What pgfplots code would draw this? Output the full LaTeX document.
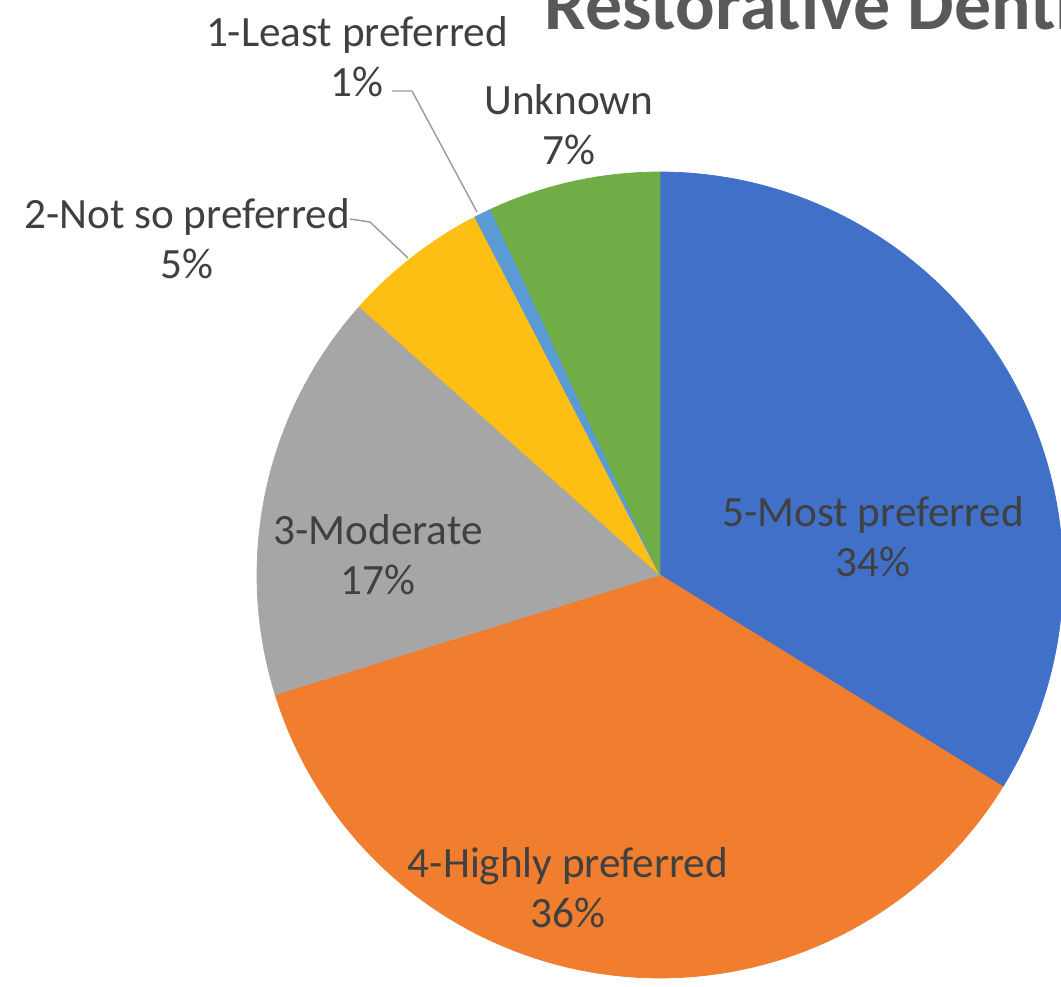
\documentclass[border=0pt]{standalone}
\usepackage{fontspec}
\setmainfont{Carlito}[Ligatures=NoCommon]
\usepackage{pgfplots}
\pgfplotsset{compat=1.18}

\definecolor{cBlue}{HTML}{4170C8}
\definecolor{cOrange}{HTML}{F07E2E}
\definecolor{cGray}{HTML}{A6A6A6}
\definecolor{cGold}{HTML}{FDBF14}
\definecolor{cLBlue}{HTML}{5B9BD5}
\definecolor{cGreen}{HTML}{70AD47}
\definecolor{txt}{HTML}{404040}
\definecolor{ttl}{HTML}{595959}
\definecolor{lead}{HTML}{999999}

% pie centre and radius in axis units (1 unit = 1 px of the reference)
\def\cx{660}\def\cy{411}\def\rr{403}
\def\startang{90}
\newcommand\slice[2]{%
  \pgfmathsetmacro\endang{\startang-3.6*#1}%
  \edef\temp{\noexpand\addplot[fill=#2,draw=#2,line width=0.2pt,domain=\endang:\startang,samples=120,variable=\noexpand\tt]
    ({\cx+\rr*cos(\noexpand\tt)},{\cy+\rr*sin(\noexpand\tt)}) -- (axis cs:\cx,\cy) -- cycle;}%
  \temp
  \global\let\startang\endang
}

\begin{document}
\begin{tikzpicture}
\useasboundingbox (0,0) rectangle (10.61cm,9.86cm);
\clip (0,0) rectangle (10.61cm,9.86cm);
\begin{axis}[at={(0,0)},anchor=south west,
  width=10.61cm,height=9.86cm,scale only axis,
  xmin=0,xmax=1061,ymin=0,ymax=986,
  axis lines=none,clip=false]
% slices clockwise from 12 o'clock (percent values)
\slice{33.8}{cBlue}    % 5-Most preferred
\slice{36.4}{cOrange}  % 4-Highly preferred
\slice{16.4}{cGray}    % 3-Moderate
\slice{5.8}{cGold}     % 2-Not so preferred
\slice{0.7}{cLBlue}    % 1-Least preferred
\slice{6.9}{cGreen}    % Unknown

\begin{scope}[every node/.style={align=center,text=txt,font=\fontsize{12.3}{14.2}\selectfont}]
\node at (axis cs:873,449) {5-Most preferred\\34\%};
\node at (axis cs:568,98.5) {4-Highly preferred\\36\%};
\node at (axis cs:378,431) {3-Moderate\\17\%};
\node at (axis cs:187,747.5) {2-Not so preferred\\5\%};
\node at (axis cs:357,929.5) {1-Least preferred\\1\%};
\node at (axis cs:569,861) {Unknown\\7\%};
\end{scope}
\draw[lead,line width=0.4pt] (axis cs:392,895) -- (axis cs:412,895) -- (axis cs:477,774);
\draw[lead,line width=0.4pt] (axis cs:350,767) -- (axis cs:370,764) -- (axis cs:408,728);
\node[anchor=base west,text=ttl,font=\fontsize{21}{24}\selectfont\bfseries,inner sep=0pt] at (axis cs:544,956) {Restorative Dentistry};
\end{axis}
\end{tikzpicture}
\end{document}
